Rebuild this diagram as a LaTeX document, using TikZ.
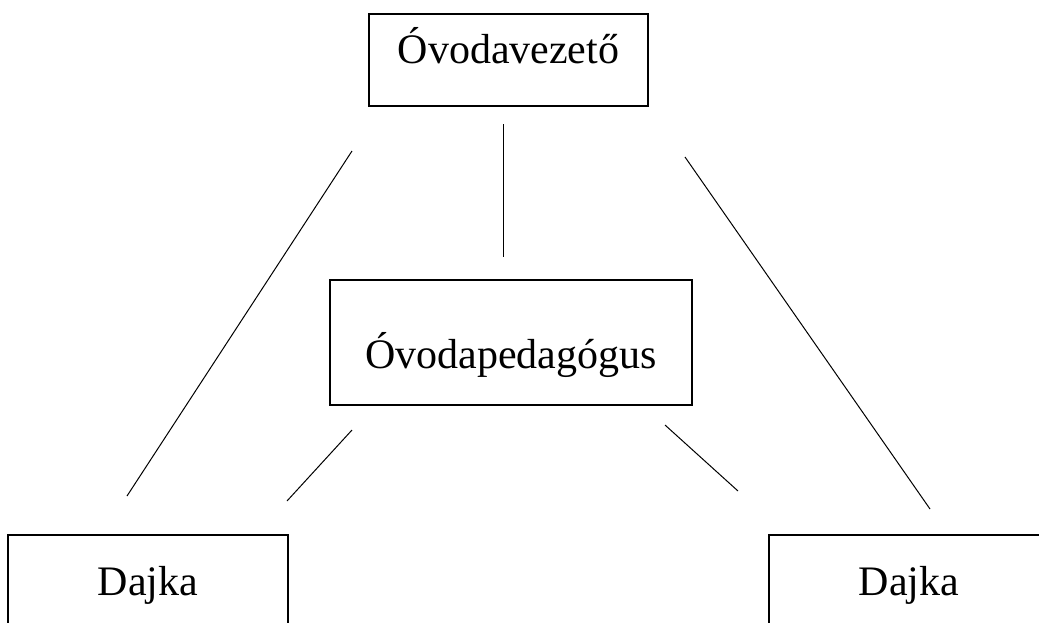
\documentclass[tikz,border=0pt]{standalone}
\usepackage{fontspec}
\setmainfont{Liberation Serif}

\tikzset{
	box/.style={draw, line width=1pt, inner sep=0pt, anchor=base,
		font=\fontsize{21}{25}\selectfont},
	link/.style={line width=0.5pt}
}

\begin{document}
\begin{tikzpicture}[x=0.5pt,y=-0.5pt]
	\useasboundingbox (0,0) rectangle (1039,622);
	% boxes
	\node[box, minimum width=139.5pt, text height=24.5pt, text depth=21.5pt] (vezeto) at (508.5,63) {Óvodavezető};
	\node[box, minimum width=181pt, text height=44pt, text depth=18.5pt] (pedagogus) at (511,368) {Óvodapedagógus};
	\node[box, minimum width=140pt, text height=30pt, text depth=25pt] (dajka_l) at (148,595) {Dajka};
	\node[box, minimum width=140pt, text height=30pt, text depth=25pt] (dajka_r) at (909,595) {Dajka};
	% line ends
	\coordinate (v_l) at (352,151);
	\coordinate (v_m) at (503.5,124);
	\coordinate (v_r) at (685,157);
	\coordinate (p_t) at (503.5,257);
	\coordinate (p_l) at (352,430);
	\coordinate (p_r) at (665,425);
	\coordinate (d_l1) at (127,496);
	\coordinate (d_l2) at (287,501);
	\coordinate (d_r1) at (738,491);
	\coordinate (d_r2) at (930,509);
	\draw[link] (v_l) -- (d_l1);
	\draw[link] (v_m) -- (p_t);
	\draw[link] (v_r) -- (d_r2);
	\draw[link] (p_l) -- (d_l2);
	\draw[link] (p_r) -- (d_r1);
\end{tikzpicture}
\end{document}
